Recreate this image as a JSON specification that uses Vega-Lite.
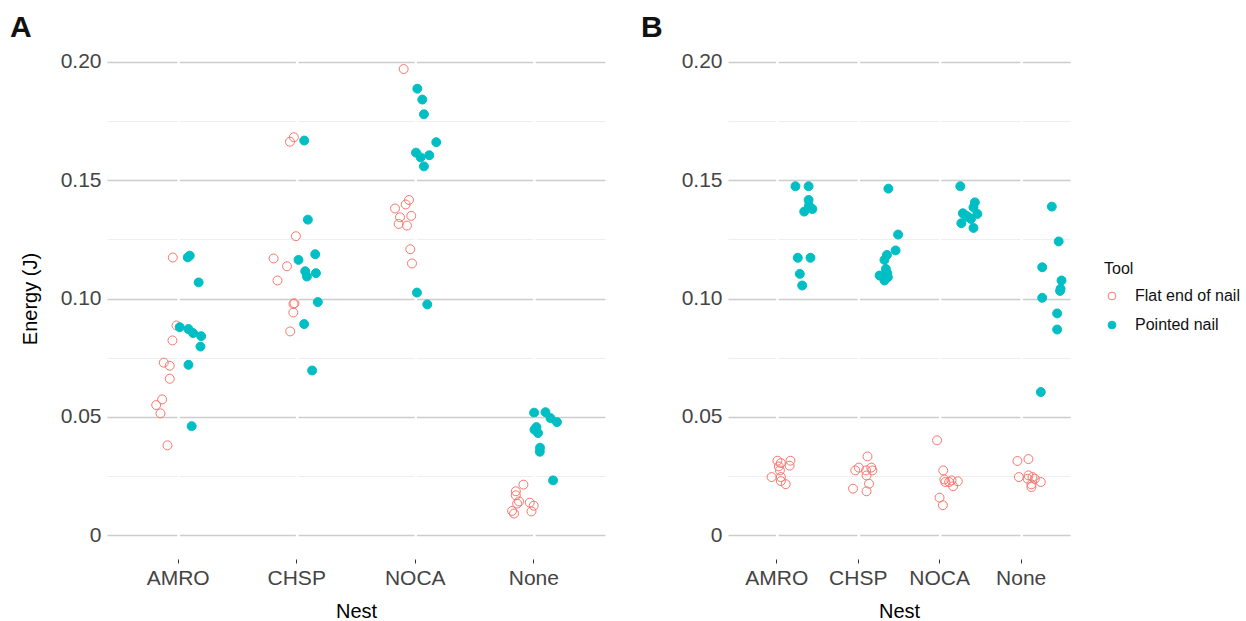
{
  "$schema": "https://vega.github.io/schema/vega-lite/v6.json",
  "background": "white",
  "padding": {"left": 10, "top": 13, "right": 5, "bottom": 0},
  "config": {
    "font": "Liberation Sans",
    "view": {"stroke": null},
    "axis": {"domain": false, "labelFont": "Liberation Sans", "titleFont": "Liberation Sans", "labelFontSize": 21, "labelColor": "#444444", "titleFontSize": 20, "titleFontWeight": "normal", "titleColor": "#000000"},
    "legend": {"labelFont": "Liberation Sans", "titleFont": "Liberation Sans"},
    "title": {"font": "Liberation Sans"}
  },
  "datasets": {
    "A": [
      {"Nest": "AMRO", "Tool": "Flat end of nail", "Energy": 0.1173, "Jitter": -0.045},
      {"Nest": "AMRO", "Tool": "Flat end of nail", "Energy": 0.0886, "Jitter": -0.014},
      {"Nest": "AMRO", "Tool": "Flat end of nail", "Energy": 0.0823, "Jitter": -0.048},
      {"Nest": "AMRO", "Tool": "Flat end of nail", "Energy": 0.0729, "Jitter": -0.121},
      {"Nest": "AMRO", "Tool": "Flat end of nail", "Energy": 0.0716, "Jitter": -0.071},
      {"Nest": "AMRO", "Tool": "Flat end of nail", "Energy": 0.0661, "Jitter": -0.071},
      {"Nest": "AMRO", "Tool": "Flat end of nail", "Energy": 0.0574, "Jitter": -0.135},
      {"Nest": "AMRO", "Tool": "Flat end of nail", "Energy": 0.0550, "Jitter": -0.185},
      {"Nest": "AMRO", "Tool": "Flat end of nail", "Energy": 0.0515, "Jitter": -0.149},
      {"Nest": "AMRO", "Tool": "Flat end of nail", "Energy": 0.0380, "Jitter": -0.090},
      {"Nest": "AMRO", "Tool": "Pointed nail", "Energy": 0.1174, "Jitter": 0.081},
      {"Nest": "AMRO", "Tool": "Pointed nail", "Energy": 0.1181, "Jitter": 0.098},
      {"Nest": "AMRO", "Tool": "Pointed nail", "Energy": 0.1068, "Jitter": 0.173},
      {"Nest": "AMRO", "Tool": "Pointed nail", "Energy": 0.0879, "Jitter": 0.013},
      {"Nest": "AMRO", "Tool": "Pointed nail", "Energy": 0.0871, "Jitter": 0.087},
      {"Nest": "AMRO", "Tool": "Pointed nail", "Energy": 0.0854, "Jitter": 0.126},
      {"Nest": "AMRO", "Tool": "Pointed nail", "Energy": 0.0841, "Jitter": 0.194},
      {"Nest": "AMRO", "Tool": "Pointed nail", "Energy": 0.0797, "Jitter": 0.188},
      {"Nest": "AMRO", "Tool": "Pointed nail", "Energy": 0.0720, "Jitter": 0.087},
      {"Nest": "AMRO", "Tool": "Pointed nail", "Energy": 0.0461, "Jitter": 0.114},
      {"Nest": "CHSP", "Tool": "Flat end of nail", "Energy": 0.1681, "Jitter": -0.024},
      {"Nest": "CHSP", "Tool": "Flat end of nail", "Energy": 0.1662, "Jitter": -0.057},
      {"Nest": "CHSP", "Tool": "Flat end of nail", "Energy": 0.1263, "Jitter": -0.007},
      {"Nest": "CHSP", "Tool": "Flat end of nail", "Energy": 0.1169, "Jitter": -0.195},
      {"Nest": "CHSP", "Tool": "Flat end of nail", "Energy": 0.1136, "Jitter": -0.082},
      {"Nest": "CHSP", "Tool": "Flat end of nail", "Energy": 0.1076, "Jitter": -0.162},
      {"Nest": "CHSP", "Tool": "Flat end of nail", "Energy": 0.0977, "Jitter": -0.027},
      {"Nest": "CHSP", "Tool": "Flat end of nail", "Energy": 0.0980, "Jitter": -0.019},
      {"Nest": "CHSP", "Tool": "Flat end of nail", "Energy": 0.0941, "Jitter": -0.029},
      {"Nest": "CHSP", "Tool": "Flat end of nail", "Energy": 0.0861, "Jitter": -0.055},
      {"Nest": "CHSP", "Tool": "Pointed nail", "Energy": 0.1667, "Jitter": 0.063},
      {"Nest": "CHSP", "Tool": "Pointed nail", "Energy": 0.1333, "Jitter": 0.094},
      {"Nest": "CHSP", "Tool": "Pointed nail", "Energy": 0.1187, "Jitter": 0.156},
      {"Nest": "CHSP", "Tool": "Pointed nail", "Energy": 0.1163, "Jitter": 0.015},
      {"Nest": "CHSP", "Tool": "Pointed nail", "Energy": 0.1115, "Jitter": 0.072},
      {"Nest": "CHSP", "Tool": "Pointed nail", "Energy": 0.1093, "Jitter": 0.086},
      {"Nest": "CHSP", "Tool": "Pointed nail", "Energy": 0.1107, "Jitter": 0.162},
      {"Nest": "CHSP", "Tool": "Pointed nail", "Energy": 0.0985, "Jitter": 0.178},
      {"Nest": "CHSP", "Tool": "Pointed nail", "Energy": 0.0892, "Jitter": 0.063},
      {"Nest": "CHSP", "Tool": "Pointed nail", "Energy": 0.0696, "Jitter": 0.130},
      {"Nest": "NOCA", "Tool": "Flat end of nail", "Energy": 0.1969, "Jitter": -0.098},
      {"Nest": "NOCA", "Tool": "Flat end of nail", "Energy": 0.1416, "Jitter": -0.053},
      {"Nest": "NOCA", "Tool": "Flat end of nail", "Energy": 0.1397, "Jitter": -0.081},
      {"Nest": "NOCA", "Tool": "Flat end of nail", "Energy": 0.1380, "Jitter": -0.171},
      {"Nest": "NOCA", "Tool": "Flat end of nail", "Energy": 0.1343, "Jitter": -0.129},
      {"Nest": "NOCA", "Tool": "Flat end of nail", "Energy": 0.1349, "Jitter": -0.034},
      {"Nest": "NOCA", "Tool": "Flat end of nail", "Energy": 0.1315, "Jitter": -0.140},
      {"Nest": "NOCA", "Tool": "Flat end of nail", "Energy": 0.1308, "Jitter": -0.070},
      {"Nest": "NOCA", "Tool": "Flat end of nail", "Energy": 0.1208, "Jitter": -0.042},
      {"Nest": "NOCA", "Tool": "Flat end of nail", "Energy": 0.1148, "Jitter": -0.028},
      {"Nest": "NOCA", "Tool": "Pointed nail", "Energy": 0.1886, "Jitter": 0.017},
      {"Nest": "NOCA", "Tool": "Pointed nail", "Energy": 0.1840, "Jitter": 0.059},
      {"Nest": "NOCA", "Tool": "Pointed nail", "Energy": 0.1778, "Jitter": 0.073},
      {"Nest": "NOCA", "Tool": "Pointed nail", "Energy": 0.1660, "Jitter": 0.177},
      {"Nest": "NOCA", "Tool": "Pointed nail", "Energy": 0.1616, "Jitter": 0.006},
      {"Nest": "NOCA", "Tool": "Pointed nail", "Energy": 0.1596, "Jitter": 0.045},
      {"Nest": "NOCA", "Tool": "Pointed nail", "Energy": 0.1605, "Jitter": 0.118},
      {"Nest": "NOCA", "Tool": "Pointed nail", "Energy": 0.1558, "Jitter": 0.073},
      {"Nest": "NOCA", "Tool": "Pointed nail", "Energy": 0.1025, "Jitter": 0.014},
      {"Nest": "NOCA", "Tool": "Pointed nail", "Energy": 0.0975, "Jitter": 0.101},
      {"Nest": "None", "Tool": "Flat end of nail", "Energy": 0.0214, "Jitter": -0.088},
      {"Nest": "None", "Tool": "Flat end of nail", "Energy": 0.0186, "Jitter": -0.152},
      {"Nest": "None", "Tool": "Flat end of nail", "Energy": 0.0169, "Jitter": -0.152},
      {"Nest": "None", "Tool": "Flat end of nail", "Energy": 0.0143, "Jitter": -0.125},
      {"Nest": "None", "Tool": "Flat end of nail", "Energy": 0.0134, "Jitter": -0.141},
      {"Nest": "None", "Tool": "Flat end of nail", "Energy": 0.0138, "Jitter": -0.035},
      {"Nest": "None", "Tool": "Flat end of nail", "Energy": 0.0125, "Jitter": -0.001},
      {"Nest": "None", "Tool": "Flat end of nail", "Energy": 0.0101, "Jitter": -0.020},
      {"Nest": "None", "Tool": "Flat end of nail", "Energy": 0.0103, "Jitter": -0.184},
      {"Nest": "None", "Tool": "Flat end of nail", "Energy": 0.0092, "Jitter": -0.167},
      {"Nest": "None", "Tool": "Pointed nail", "Energy": 0.0518, "Jitter": 0.002},
      {"Nest": "None", "Tool": "Pointed nail", "Energy": 0.0520, "Jitter": 0.098},
      {"Nest": "None", "Tool": "Pointed nail", "Energy": 0.0495, "Jitter": 0.140},
      {"Nest": "None", "Tool": "Pointed nail", "Energy": 0.0478, "Jitter": 0.195},
      {"Nest": "None", "Tool": "Pointed nail", "Energy": 0.0457, "Jitter": 0.022},
      {"Nest": "None", "Tool": "Pointed nail", "Energy": 0.0446, "Jitter": 0.005},
      {"Nest": "None", "Tool": "Pointed nail", "Energy": 0.0432, "Jitter": 0.035},
      {"Nest": "None", "Tool": "Pointed nail", "Energy": 0.0370, "Jitter": 0.052},
      {"Nest": "None", "Tool": "Pointed nail", "Energy": 0.0353, "Jitter": 0.050},
      {"Nest": "None", "Tool": "Pointed nail", "Energy": 0.0232, "Jitter": 0.162}
    ],
    "B": [
      {"Nest": "AMRO", "Tool": "Flat end of nail", "Energy": 0.0315, "Jitter": -0.152},
      {"Nest": "AMRO", "Tool": "Flat end of nail", "Energy": 0.0315, "Jitter": -0.042},
      {"Nest": "AMRO", "Tool": "Flat end of nail", "Energy": 0.0305, "Jitter": -0.123},
      {"Nest": "AMRO", "Tool": "Flat end of nail", "Energy": 0.0294, "Jitter": -0.049},
      {"Nest": "AMRO", "Tool": "Flat end of nail", "Energy": 0.0291, "Jitter": -0.140},
      {"Nest": "AMRO", "Tool": "Flat end of nail", "Energy": 0.0274, "Jitter": -0.131},
      {"Nest": "AMRO", "Tool": "Flat end of nail", "Energy": 0.0246, "Jitter": -0.201},
      {"Nest": "AMRO", "Tool": "Flat end of nail", "Energy": 0.0246, "Jitter": -0.123},
      {"Nest": "AMRO", "Tool": "Flat end of nail", "Energy": 0.0229, "Jitter": -0.123},
      {"Nest": "AMRO", "Tool": "Flat end of nail", "Energy": 0.0216, "Jitter": -0.082},
      {"Nest": "AMRO", "Tool": "Pointed nail", "Energy": 0.1474, "Jitter": 0.000},
      {"Nest": "AMRO", "Tool": "Pointed nail", "Energy": 0.1474, "Jitter": 0.111},
      {"Nest": "AMRO", "Tool": "Pointed nail", "Energy": 0.1416, "Jitter": 0.111},
      {"Nest": "AMRO", "Tool": "Pointed nail", "Energy": 0.1392, "Jitter": 0.114},
      {"Nest": "AMRO", "Tool": "Pointed nail", "Energy": 0.1378, "Jitter": 0.143},
      {"Nest": "AMRO", "Tool": "Pointed nail", "Energy": 0.1367, "Jitter": 0.074},
      {"Nest": "AMRO", "Tool": "Pointed nail", "Energy": 0.1172, "Jitter": 0.020},
      {"Nest": "AMRO", "Tool": "Pointed nail", "Energy": 0.1172, "Jitter": 0.127},
      {"Nest": "AMRO", "Tool": "Pointed nail", "Energy": 0.1104, "Jitter": 0.037},
      {"Nest": "AMRO", "Tool": "Pointed nail", "Energy": 0.1055, "Jitter": 0.057},
      {"Nest": "CHSP", "Tool": "Flat end of nail", "Energy": 0.0333, "Jitter": -0.079},
      {"Nest": "CHSP", "Tool": "Flat end of nail", "Energy": 0.0286, "Jitter": -0.152},
      {"Nest": "CHSP", "Tool": "Flat end of nail", "Energy": 0.0286, "Jitter": -0.047},
      {"Nest": "CHSP", "Tool": "Flat end of nail", "Energy": 0.0274, "Jitter": -0.182},
      {"Nest": "CHSP", "Tool": "Flat end of nail", "Energy": 0.0274, "Jitter": -0.091},
      {"Nest": "CHSP", "Tool": "Flat end of nail", "Energy": 0.0274, "Jitter": -0.038},
      {"Nest": "CHSP", "Tool": "Flat end of nail", "Energy": 0.0253, "Jitter": -0.087},
      {"Nest": "CHSP", "Tool": "Flat end of nail", "Energy": 0.0218, "Jitter": -0.066},
      {"Nest": "CHSP", "Tool": "Flat end of nail", "Energy": 0.0197, "Jitter": -0.201},
      {"Nest": "CHSP", "Tool": "Flat end of nail", "Energy": 0.0186, "Jitter": -0.087},
      {"Nest": "CHSP", "Tool": "Pointed nail", "Energy": 0.1464, "Jitter": 0.097},
      {"Nest": "CHSP", "Tool": "Pointed nail", "Energy": 0.1270, "Jitter": 0.179},
      {"Nest": "CHSP", "Tool": "Pointed nail", "Energy": 0.1203, "Jitter": 0.158},
      {"Nest": "CHSP", "Tool": "Pointed nail", "Energy": 0.1184, "Jitter": 0.085},
      {"Nest": "CHSP", "Tool": "Pointed nail", "Energy": 0.1163, "Jitter": 0.064},
      {"Nest": "CHSP", "Tool": "Pointed nail", "Energy": 0.1125, "Jitter": 0.076},
      {"Nest": "CHSP", "Tool": "Pointed nail", "Energy": 0.1107, "Jitter": 0.088},
      {"Nest": "CHSP", "Tool": "Pointed nail", "Energy": 0.1097, "Jitter": 0.023},
      {"Nest": "CHSP", "Tool": "Pointed nail", "Energy": 0.1090, "Jitter": 0.093},
      {"Nest": "CHSP", "Tool": "Pointed nail", "Energy": 0.1076, "Jitter": 0.064},
      {"Nest": "NOCA", "Tool": "Flat end of nail", "Energy": 0.0401, "Jitter": -0.179},
      {"Nest": "NOCA", "Tool": "Flat end of nail", "Energy": 0.0274, "Jitter": -0.127},
      {"Nest": "NOCA", "Tool": "Flat end of nail", "Energy": 0.0236, "Jitter": -0.118},
      {"Nest": "NOCA", "Tool": "Flat end of nail", "Energy": 0.0232, "Jitter": -0.057},
      {"Nest": "NOCA", "Tool": "Flat end of nail", "Energy": 0.0228, "Jitter": -0.004},
      {"Nest": "NOCA", "Tool": "Flat end of nail", "Energy": 0.0225, "Jitter": -0.109},
      {"Nest": "NOCA", "Tool": "Flat end of nail", "Energy": 0.0225, "Jitter": -0.077},
      {"Nest": "NOCA", "Tool": "Flat end of nail", "Energy": 0.0207, "Jitter": -0.044},
      {"Nest": "NOCA", "Tool": "Flat end of nail", "Energy": 0.0159, "Jitter": -0.158},
      {"Nest": "NOCA", "Tool": "Flat end of nail", "Energy": 0.0127, "Jitter": -0.130},
      {"Nest": "NOCA", "Tool": "Pointed nail", "Energy": 0.1474, "Jitter": 0.017},
      {"Nest": "NOCA", "Tool": "Pointed nail", "Energy": 0.1406, "Jitter": 0.140},
      {"Nest": "NOCA", "Tool": "Pointed nail", "Energy": 0.1385, "Jitter": 0.128},
      {"Nest": "NOCA", "Tool": "Pointed nail", "Energy": 0.1360, "Jitter": 0.038},
      {"Nest": "NOCA", "Tool": "Pointed nail", "Energy": 0.1357, "Jitter": 0.161},
      {"Nest": "NOCA", "Tool": "Pointed nail", "Energy": 0.1350, "Jitter": 0.066},
      {"Nest": "NOCA", "Tool": "Pointed nail", "Energy": 0.1343, "Jitter": 0.087},
      {"Nest": "NOCA", "Tool": "Pointed nail", "Energy": 0.1336, "Jitter": 0.107},
      {"Nest": "NOCA", "Tool": "Pointed nail", "Energy": 0.1318, "Jitter": 0.026},
      {"Nest": "NOCA", "Tool": "Pointed nail", "Energy": 0.1298, "Jitter": 0.128},
      {"Nest": "None", "Tool": "Flat end of nail", "Energy": 0.0314, "Jitter": -0.188},
      {"Nest": "None", "Tool": "Flat end of nail", "Energy": 0.0322, "Jitter": -0.095},
      {"Nest": "None", "Tool": "Flat end of nail", "Energy": 0.0246, "Jitter": -0.176},
      {"Nest": "None", "Tool": "Flat end of nail", "Energy": 0.0253, "Jitter": -0.095},
      {"Nest": "None", "Tool": "Flat end of nail", "Energy": 0.0246, "Jitter": -0.061},
      {"Nest": "None", "Tool": "Flat end of nail", "Energy": 0.0239, "Jitter": -0.102},
      {"Nest": "None", "Tool": "Flat end of nail", "Energy": 0.0239, "Jitter": -0.041},
      {"Nest": "None", "Tool": "Flat end of nail", "Energy": 0.0225, "Jitter": 0.009},
      {"Nest": "None", "Tool": "Flat end of nail", "Energy": 0.0215, "Jitter": -0.070},
      {"Nest": "None", "Tool": "Flat end of nail", "Energy": 0.0204, "Jitter": -0.070},
      {"Nest": "None", "Tool": "Pointed nail", "Energy": 0.1388, "Jitter": 0.102},
      {"Nest": "None", "Tool": "Pointed nail", "Energy": 0.1241, "Jitter": 0.160},
      {"Nest": "None", "Tool": "Pointed nail", "Energy": 0.1132, "Jitter": 0.021},
      {"Nest": "None", "Tool": "Pointed nail", "Energy": 0.1076, "Jitter": 0.184},
      {"Nest": "None", "Tool": "Pointed nail", "Energy": 0.1041, "Jitter": 0.176},
      {"Nest": "None", "Tool": "Pointed nail", "Energy": 0.1032, "Jitter": 0.172},
      {"Nest": "None", "Tool": "Pointed nail", "Energy": 0.1003, "Jitter": 0.021},
      {"Nest": "None", "Tool": "Pointed nail", "Energy": 0.0937, "Jitter": 0.147},
      {"Nest": "None", "Tool": "Pointed nail", "Energy": 0.0869, "Jitter": 0.147},
      {"Nest": "None", "Tool": "Pointed nail", "Energy": 0.0605, "Jitter": 0.009}
    ]
  },
  "bounds": "flush",
  "spacing": 123,
  "resolve": {"scale": {"stroke": "shared", "fill": "shared"}},
  "hconcat": [
    {
      "data": {"name": "A"},
      "width": 498,
      "height": 521,
      "title": {"text": "A", "anchor": "start", "frame": "group", "fontSize": 30, "fontWeight": "bold", "color": "#111111", "dx": -97, "dy": 5, "offset": 0},
      "mark": {"type": "point", "shape": "circle", "size": 80, "strokeWidth": 1, "opacity": 1},
      "encoding": {
        "x": {"field": "Nest", "type": "nominal", "sort": ["AMRO", "CHSP", "NOCA", "None"],
          "scale": {"paddingInner": 0, "paddingOuter": 0.1},
          "axis": {"title": "Nest", "labelAngle": 0, "grid": false, "ticks": true, "tickSize": 4, "tickColor": "#333333", "tickWidth": 1, "labelPadding": 4, "titlePadding": 13}},
        "xOffset": {"field": "Jitter", "type": "quantitative", "scale": {"domain": [-0.5, 0.5]}},
        "y": {"field": "Energy", "type": "quantitative",
          "scale": {"domain": [-0.01, 0.21], "nice": false, "zero": false},
          "axis": {"title": "Energy (J)", "values": [0, 0.025, 0.05, 0.075, 0.1, 0.125, 0.15, 0.175, 0.2],
            "labelExpr": "datum.value === 0 ? '0' : (round(datum.value*1000) % 50 === 0 ? format(datum.value, '.2f') : '')",
            "labelOverlap": false, "ticks": false, "labelPadding": 6, "titlePadding": 20, "grid": true,
            "gridColor": {"condition": {"test": "round(datum.value*1000) % 50 === 0", "value": "#cccccc"}, "value": "#eeeeee"},
            "gridWidth": {"condition": {"test": "round(datum.value*1000) % 50 === 0", "value": 1.4}, "value": 1},
            "gridDash": [69.89, 2.5, 116.07, 2.5, 116.07, 2.5, 116.07, 2.5, 100]}},
        "stroke": {"field": "Tool", "type": "nominal",
          "scale": {"domain": ["Flat end of nail", "Pointed nail"], "range": ["#F8766D", "#00BFC4"]},
          "legend": {"title": "Tool", "orient": "none", "legendX": 997, "legendY": 223, "symbolType": "circle", "symbolSize": 60, "symbolStrokeWidth": 1, "labelFontSize": 16, "titleFontSize": 16, "titleFontWeight": "normal", "labelColor": "#111111", "titleColor": "#111111", "rowPadding": 13, "titlePadding": 11, "labelOffset": 15}},
        "fill": {"field": "Tool", "type": "nominal",
          "scale": {"domain": ["Flat end of nail", "Pointed nail"], "range": ["transparent", "#00BFC4"]},
          "legend": {"title": "Tool", "orient": "none", "legendX": 997, "legendY": 223, "symbolType": "circle", "symbolSize": 60, "symbolStrokeWidth": 1, "labelFontSize": 16, "titleFontSize": 16, "titleFontWeight": "normal", "labelColor": "#111111", "titleColor": "#111111", "rowPadding": 13, "titlePadding": 11, "labelOffset": 15}}
      }
    },
    {
      "data": {"name": "B"},
      "width": 342,
      "height": 521,
      "title": {"text": "B", "anchor": "start", "frame": "group", "fontSize": 30, "fontWeight": "bold", "color": "#111111", "dx": -87, "dy": 5, "offset": 0},
      "mark": {"type": "point", "shape": "circle", "size": 80, "strokeWidth": 1, "opacity": 1},
      "encoding": {
        "x": {"field": "Nest", "type": "nominal", "sort": ["AMRO", "CHSP", "NOCA", "None"],
          "scale": {"paddingInner": 0, "paddingOuter": 0.1},
          "axis": {"title": "Nest", "labelAngle": 0, "grid": false, "ticks": true, "tickSize": 4, "tickColor": "#333333", "tickWidth": 1, "labelPadding": 4, "titlePadding": 13}},
        "xOffset": {"field": "Jitter", "type": "quantitative", "scale": {"domain": [-0.5, 0.5]}},
        "y": {"field": "Energy", "type": "quantitative",
          "scale": {"domain": [-0.01, 0.21], "nice": false, "zero": false},
          "axis": {"title": null, "values": [0, 0.025, 0.05, 0.075, 0.1, 0.125, 0.15, 0.175, 0.2],
            "labelExpr": "datum.value === 0 ? '0' : (round(datum.value*1000) % 50 === 0 ? format(datum.value, '.2f') : '')",
            "labelOverlap": false, "ticks": false, "labelPadding": 6, "grid": true,
            "gridColor": {"condition": {"test": "round(datum.value*1000) % 50 === 0", "value": "#cccccc"}, "value": "#eeeeee"},
            "gridWidth": {"condition": {"test": "round(datum.value*1000) % 50 === 0", "value": 1.4}, "value": 1},
            "gridDash": [47.61, 2.5, 78.93, 2.5, 78.93, 2.5, 78.93, 2.5, 100]}},
        "stroke": {"field": "Tool", "type": "nominal",
          "scale": {"domain": ["Flat end of nail", "Pointed nail"], "range": ["#F8766D", "#00BFC4"]},
          "legend": {"title": "Tool", "orient": "none", "legendX": 997, "legendY": 223, "symbolType": "circle", "symbolSize": 60, "symbolStrokeWidth": 1, "labelFontSize": 16, "titleFontSize": 16, "titleFontWeight": "normal", "labelColor": "#111111", "titleColor": "#111111", "rowPadding": 13, "titlePadding": 11, "labelOffset": 15}},
        "fill": {"field": "Tool", "type": "nominal",
          "scale": {"domain": ["Flat end of nail", "Pointed nail"], "range": ["transparent", "#00BFC4"]},
          "legend": {"title": "Tool", "orient": "none", "legendX": 997, "legendY": 223, "symbolType": "circle", "symbolSize": 60, "symbolStrokeWidth": 1, "labelFontSize": 16, "titleFontSize": 16, "titleFontWeight": "normal", "labelColor": "#111111", "titleColor": "#111111", "rowPadding": 13, "titlePadding": 11, "labelOffset": 15}}
      }
    }
  ]
}
